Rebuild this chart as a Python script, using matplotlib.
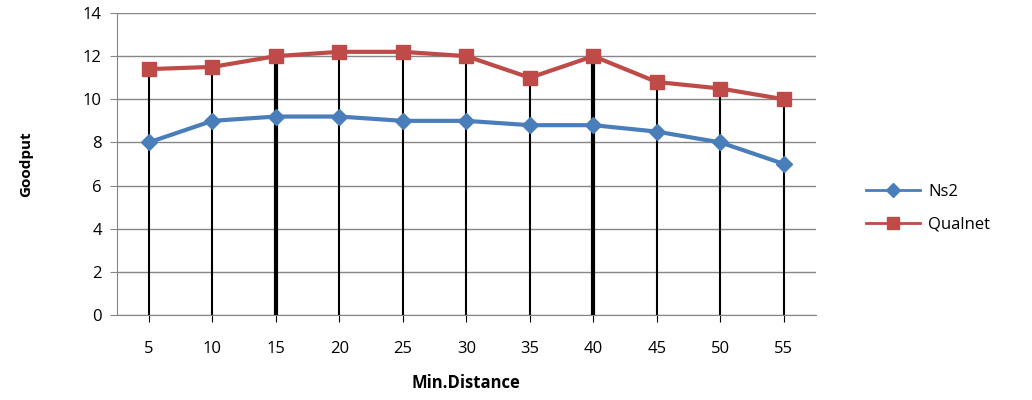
import matplotlib
matplotlib.use('Agg')
import matplotlib.pyplot as plt
from matplotlib.lines import Line2D

# dados
distancias = ['5', '10', '15', '20', '25', '30', '35', '40', '45', '50', '55']
ns2 = [8, 9, 9.2, 9.2, 9, 9, 8.8, 8.8, 8.5, 8, 7]
qualnet = [11.4, 11.5, 12, 12.2, 12.2, 12, 11, 12, 10.8, 10.5, 10]
espessura_linhas = [1.5, 1.5, 3, 1.5, 1.5, 1.5, 1.5, 3, 1.5, 1.5, 1.5]

plt.rcParams['font.family'] = ['Open Sans', 'DejaVu Sans']

fig = plt.figure(figsize=(10.32, 4), dpi=100)
ax = fig.add_axes([0.1134, 0.2125, 0.677, 0.755])

x = list(range(len(distancias)))

# linhas verticais do zero até o valor do Qualnet
for xi, yi, lw in zip(x, qualnet, espessura_linhas):
    ax.plot([xi, xi], [0, yi], color='black', lw=lw, zorder=2, solid_capstyle='butt')

ax.plot(x, ns2, color='#4a7ebb', lw=3, marker='D', markersize=8, zorder=3)
ax.plot(x, qualnet, color='#be4b48', lw=3, marker='s', markersize=10, zorder=4)

ax.set_xlim(-0.5, len(distancias) - 0.5)
ax.set_ylim(0, 14)
ax.set_yticks(range(0, 15, 2))
ax.set_xticks(x)
ax.set_xticklabels(distancias, fontsize=12)
ax.tick_params(axis='y', labelsize=12, length=5, color='#868686', pad=6)
ax.tick_params(axis='x', length=5, color='black', pad=14)

ax.grid(True, axis='y', color='#868686', lw=1)
ax.set_axisbelow(True)
for lado in ['top', 'right']:
    ax.spines[lado].set_visible(False)
ax.spines['left'].set_color('#868686')
ax.spines['bottom'].set_color('#868686')

ax.set_ylabel('Goodput', fontsize=11, fontweight='bold', labelpad=36)
ax.set_xlabel('Min.Distance', fontsize=12, fontweight='bold', labelpad=12)

# legenda com linhas mais finas, como no Excel
itens = [Line2D([], [], color='#4a7ebb', lw=2, marker='D', markersize=7),
         Line2D([], [], color='#be4b48', lw=2, marker='s', markersize=8)]
fig.legend(itens, ['Ns2', 'Qualnet'], loc='center left', bbox_to_anchor=(0.825, 0.48),
           frameon=False, fontsize=12, handlelength=3.2, labelspacing=1.0, handletextpad=0.5)

plt.savefig('out.png', dpi=100)
